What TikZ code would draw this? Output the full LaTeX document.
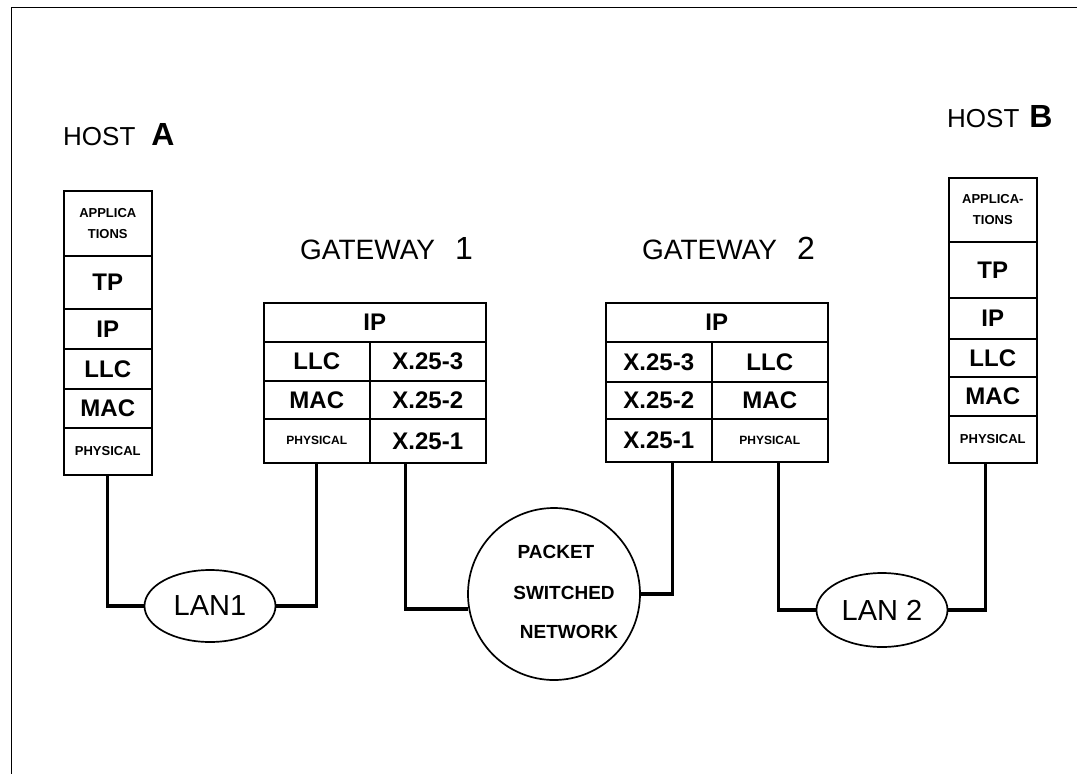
\documentclass[tikz,border=0pt]{standalone}
\usepackage{fontspec}
\setmainfont{Liberation Sans}
\usetikzlibrary{shapes.geometric}
\begin{document}
\begin{tikzpicture}[x=1pt,y=-1pt,
  cell/.style={draw, line width=1.6pt, inner sep=0pt, anchor=north west, align=center, font=\fontsize{24}{28}\selectfont\bfseries},
  sm/.style={font=\fontsize{13}{21}\selectfont\bfseries},
  smg/.style={font=\fontsize{12}{21}\selectfont\bfseries},
  wire/.style={line width=3.2pt},
  lanshape/.style={draw, ellipse, line width=1.7pt, inner sep=0pt, font=\fontsize{29}{30}\selectfont},
  hosttitle/.style={anchor=base west, inner sep=0pt, font=\fontsize{26}{30}\selectfont},
  gwtitle/.style={anchor=base west, inner sep=0pt, font=\fontsize{28}{30}\selectfont},
  psntext/.style={inner sep=0pt, font=\fontsize{19}{20}\selectfont\bfseries}
]
\useasboundingbox (0,0) rectangle (1077,774);
\draw[line width=1pt] (11,774) -- (11,7) -- (1077,7);

% titles
\node[hosttitle] (hat) at (63,145) {HOST\hspace{16pt}{\fontsize{32}{32}\selectfont\bfseries A}};
\node[hosttitle] (hbt) at (947,127) {HOST\hspace{10pt}{\fontsize{32}{32}\selectfont\bfseries B}};
\node[gwtitle] (g1t) at (300,259) {GATEWAY\hspace{20pt}{\fontsize{32}{32}\selectfont 1}};
\node[gwtitle] (g2t) at (642,259) {GATEWAY\hspace{20pt}{\fontsize{32}{32}\selectfont 2}};

% host A
\node[cell, sm, minimum width=88pt, minimum height=65pt] (aapp) at (63,190) {APPLICA\\TIONS};
\node[cell, minimum width=88pt, minimum height=53pt] (atp) at (63,255) {TP};
\node[cell, minimum width=88pt, minimum height=40pt] (aip) at (63,308) {IP};
\node[cell, minimum width=88pt, minimum height=40pt] (allc) at (63,348) {LLC};
\node[cell, minimum width=88pt, minimum height=39pt] (amac) at (63,388) {MAC};
\node[cell, sm, minimum width=88pt, minimum height=47pt] (aphy) at (63,427) {PHYSICAL};

% host B
\node[cell, sm, minimum width=88pt, minimum height=64pt] (bapp) at (948,177) {APPLICA-\\TIONS};
\node[cell, minimum width=88pt, minimum height=56pt] (btp) at (948,241) {TP};
\node[cell, minimum width=88pt, minimum height=41pt] (bip) at (948,297) {IP};
\node[cell, minimum width=88pt, minimum height=38pt] (bllc) at (948,338) {LLC};
\node[cell, minimum width=88pt, minimum height=39pt] (bmac) at (948,376) {MAC};
\node[cell, sm, minimum width=88pt, minimum height=47pt] (bphy) at (948,415) {PHYSICAL};

% gateway 1
\node[cell, minimum width=222pt, minimum height=39pt] (g1ip) at (263,302) {IP};
\node[cell, minimum width=106pt, minimum height=39pt] (g1llc) at (263,341) {LLC};
\node[cell, minimum width=116pt, minimum height=39pt] (g1x3) at (369,341) {X.25-3};
\node[cell, minimum width=106pt, minimum height=38pt] (g1mac) at (263,380) {MAC};
\node[cell, minimum width=116pt, minimum height=38pt] (g1x2) at (369,380) {X.25-2};
\node[cell, smg, minimum width=106pt, minimum height=44pt] (g1phy) at (263,418) {PHYSICAL};
\node[cell, minimum width=116pt, minimum height=44pt] (g1x1) at (369,418) {X.25-1};

% gateway 2
\node[cell, minimum width=222pt, minimum height=39pt] (g2ip) at (605,302) {IP};
\node[cell, minimum width=106pt, minimum height=40pt] (g2x3) at (605,341) {X.25-3};
\node[cell, minimum width=116pt, minimum height=40pt] (g2llc) at (711,341) {LLC};
\node[cell, minimum width=106pt, minimum height=37pt] (g2x2) at (605,381) {X.25-2};
\node[cell, minimum width=116pt, minimum height=37pt] (g2mac) at (711,381) {MAC};
\node[cell, minimum width=106pt, minimum height=43pt] (g2x1) at (605,418) {X.25-1};
\node[cell, smg, minimum width=116pt, minimum height=43pt] (g2phy) at (711,418) {PHYSICAL};

% networks
\node[lanshape, minimum width=131pt, minimum height=72pt] (lan1) at (210,606) {LAN1};
\node[lanshape, minimum width=131pt, minimum height=74pt] (lan2) at (882,610) {LAN 2};
\node[draw, circle, line width=1.7pt, minimum size=172pt, inner sep=0pt] (psn) at (554,594) {};
\node[psntext] (psn1) at (556,552) {PACKET};
\node[psntext] (psn2) at (564,593) {SWITCHED};
\node[psntext] (psn3) at (569,632) {NETWORK};

% connectors
\draw[wire] (aphy.south) |- (lan1.west);
\draw[wire] (lan1.east) -| (g1phy.south);
\draw[wire] ([xshift=-22pt]g1x1.south) |- (psn.190);
\draw[wire] ([xshift=14pt]g2x1.south) |- (psn.east);
\draw[wire] ([xshift=9pt]g2phy.south) |- (lan2.west);
\draw[wire] (lan2.east) -| ([xshift=-7pt]bphy.south);
\end{tikzpicture}
\end{document}
